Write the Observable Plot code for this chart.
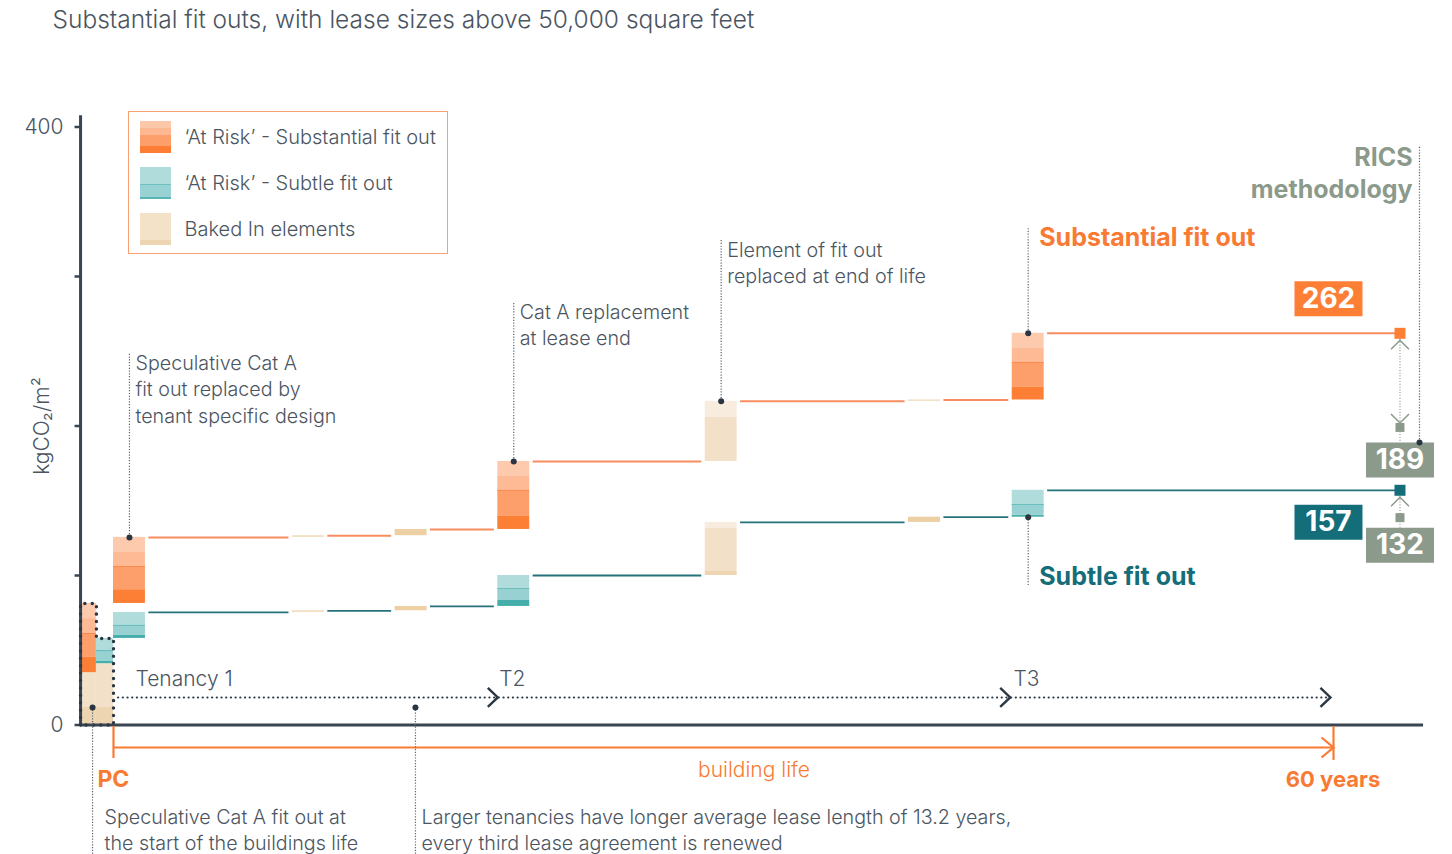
<!DOCTYPE html>
<html>
<head>
<meta charset="utf-8">
<script src="https://cdn.jsdelivr.net/npm/d3@7"></script>
<script src="https://cdn.jsdelivr.net/npm/@observablehq/plot@0.6"></script>
<style>
  html, body { margin: 0; padding: 0; background: #fff; }
  #wrap { position: relative; width: 1452px; height: 854px; overflow: hidden;
          font-family: Inter, Roboto, "Helvetica Neue", Arial, sans-serif; font-weight: 300; color: #4b5561; }
  #wrap svg { display: block; }
  #legend { position: absolute; left: 128px; top: 111px; width: 318px; height: 141px;
            border: 1.5px solid #f9a075; background: #fff; }
  #legend .sw { position: absolute; left: 10.5px; width: 31px; height: 32px; }
  #legend .lb { position: absolute; left: 55.5px; height: 26px; line-height: 26px; font-size: 20px; white-space: nowrap; }
</style>
</head>
<body>
<div id="wrap"></div>
<script>
// ---- data -------------------------------------------------------------
// Interventions over the building life (years after practical completion, PC)
const events = ["PC", "T1", "B1", "B2", "T2", "E", "B3", "T3"];
const eventStart = [-1.62, 0, 8.8, 13.85, 18.9, 29.1, 39.1, 44.2];

// Substantial fit out: stacked layers per intervention [event, from, to, layer] in kgCO2/m2
const substantialLayers = [
  ["PC", 0, 11.7, "bakedDark"], ["PC", 11.7, 35, "baked"],
  ["PC", 35, 45.2, "o4"], ["PC", 45.2, 61.2, "o3"], ["PC", 61.2, 71.2, "o2"], ["PC", 71.2, 81.3, "o1"],
  ["T1", 81.3, 90.5, "o4"], ["T1", 90.5, 106, "o3"], ["T1", 106, 115.4, "o2"], ["T1", 115.4, 125.5, "o1"],
  ["B1", 125.5, 126.6, "renewalLight"],
  ["B2", 126.6, 130.8, "renewal"],
  ["T2", 130.8, 139.5, "o4"], ["T2", 139.5, 157, "o3"], ["T2", 157, 166.2, "o2"], ["T2", 166.2, 176.3, "o1"],
  ["E", 176.3, 205.7, "baked"], ["E", 205.7, 216.5, "bakedLight"],
  ["B3", 216.5, 217.4, "renewalLight"],
  ["T3", 217.4, 225.8, "o4"], ["T3", 225.8, 242.5, "o3"], ["T3", 242.5, 251.8, "o2"], ["T3", 251.8, 262, "o1"]
];

// Subtle fit out: stacked layers per intervention [event, from, to, layer]
const subtleLayers = [
  ["PC", 0, 11.7, "bakedDark"], ["PC", 11.7, 41, "baked"],
  ["PC", 41, 42.5, "t3"], ["PC", 42.5, 49.8, "t2"], ["PC", 49.8, 57.9, "t1"],
  ["T1", 57.9, 59.9, "t3"], ["T1", 59.9, 66.6, "t2"], ["T1", 66.6, 75.3, "t1"],
  ["B1", 75.3, 76.4, "renewalLight"],
  ["B2", 76.4, 79.3, "renewal"],
  ["T2", 79.3, 83.3, "t3"], ["T2", 83.3, 91.3, "t2"], ["T2", 91.3, 100, "t1"],
  ["E", 100, 102.7, "bakedDark"], ["E", 102.7, 131.4, "baked"], ["E", 131.4, 135.5, "bakedLight"],
  ["B3", 135.5, 139, "renewal"],
  ["T3", 139, 140.3, "t3"], ["T3", 140.3, 147.5, "t2"], ["T3", 147.5, 157, "t1"]
];

const layerNames  = ["o1", "o2", "o3", "o4", "t1", "t2", "t3", "baked", "bakedLight", "bakedDark", "renewal", "renewalLight"];
const layerColors = ["#fdcaae", "#fdba95", "#fd9f6b", "#fd7e35", "#b1dcdc", "#98d1d1", "#45aeab",
                     "#f2e1c8", "#f7ecdd", "#edd5b1", "#ecd0a3", "#f1dcbd"];

// End-of-life totals and the RICS methodology equivalents
const totalValues = [262, 157];
const ricsValues = [189, 132];

const yTicks = [0, 100, 200, 300, 400];
const yTickLabels = ["0", "", "", "", "400"];

// Callouts along the substantial fit out line [event, top of leader, text]
const notes = [
  ["T1", 248.5, "Speculative Cat A\nfit out replaced by\ntenant specific design"],
  ["T2", 282.6, "Cat A replacement\nat lease end"],
  ["E", 324, "Element of fit out\nreplaced at end of life"]
];

// Notes below the axis [leader year, text year, text]
const footNotes = [
  [-1.03, -0.44, "Speculative Cat A fit out at\nthe start of the buildings life"],
  [14.85, 15.15, "Larger tenancies have longer average lease length of 13.2 years,\nevery third lease agreement is renewed"]
];

// Tenancies [label, start year, label year]
const tenancies = [["Tenancy 1", 0.25, 1.08], ["T2", 18.9, 18.97], ["T3", 44.1, 44.26]];
const tenancyEnd = 59.85;
const buildingLife = [0, 60];

// Legend entries [label, swatch gradient]
const legendLabels = ["\u2018At Risk\u2019 - Substantial fit out", "\u2018At Risk\u2019 - Subtle fit out", "Baked In elements"];
const legendSwatches = [
  "linear-gradient(#fdc8aa 0 7px, #fdb892 7px 14px, #fd9f6a 14px 25px, #fd7d35 25px 32px)",
  "linear-gradient(#b0dcdc 0 17px, #6fc0c0 17px 18px, #98d2d2 18px 30px, #58b6b6 30px 32px)",
  "linear-gradient(#f3e2c8 0 27px, #edd5b1 27px 32px)"
];

// ---- layout constants -------------------------------------------------
const axisStartYear = -1.62, axisEndYear = 64.43, axisTopValue = 407.5;
const barYears = 1.57, pcSplitYear = -0.84, lineGapYears = 0.17, endYear = 63.27;
const tenancyValue = 18.4, tenancyLabelValue = 30.4;
const lifeValue = -15.05, lifeLabelValue = -30.4, lifeEndLabelValue = -36.5;
const footDotValue = 11.7, footTextValue = -53.2, bottomValue = -90;

const ORANGE = "#f97b33", TEAL = "#156d79", GREY = "#8c9a8b", INK = "#4b5561", DARK = "#3a4552";
const FONT = "Inter, Roboto, 'Helvetica Neue', Arial, sans-serif";

// ---- derived tables ---------------------------------------------------
function eventSpan(series, event) {
  const s = eventStart[events.indexOf(event)];
  if (event === "PC") return series === "substantial" ? [s, pcSplitYear] : [pcSplitYear, 0];
  return [s, s + barYears];
}
const colorOf = new Map(layerNames.map((n, i) => [n, layerColors[i]]));

const rows = [];
for (const [series, layers] of [["substantial", substantialLayers], ["subtle", subtleLayers]]) {
  for (const [event, y1, y2, layer] of layers) {
    const [x1, x2] = eventSpan(series, event);
    rows.push({series, event, y1, y2, layer, x1, x2, fill: colorOf.get(layer)});
  }
}
const tops = d3.rollup(rows, v => d3.max(v, d => d.y2), d => d.series, d => d.event);
const bottoms = d3.rollup(rows, v => d3.min(v, d => d.y1), d => d.series, d => d.event);

const connectors = [];
for (const series of ["substantial", "subtle"]) {
  for (let i = 1; i < events.length; ++i) {
    const x1 = eventSpan(series, events[i])[1] + lineGapYears;
    const x2 = i + 1 < events.length ? eventSpan(series, events[i + 1])[0] - lineGapYears : endYear;
    connectors.push({series, x1, x2, y: tops.get(series).get(events[i])});
  }
}
const center = ev => d3.mean(eventSpan("substantial", ev));

const pcS = tops.get("substantial").get("PC"), pcT = tops.get("subtle").get("PC");
const pcOutline = [
  [axisStartYear, 0], [axisStartYear, pcS], [pcSplitYear, pcS], [pcSplitYear, pcT], [0, pcT], [0, 0], [axisStartYear, 0]
];

const noteRows = notes.map(([event, top, text]) => ({x: center(event), y1: tops.get("substantial").get(event), y2: top, text}));
const t3x = center("T3");
const subtleBottom = bottoms.get("subtle").get("T3");

// result markers: totals (orange / teal) and RICS equivalents (grey boxes hang from their value)
const totalFills = ["#fd7f35", "#146e7a"];
const totalBoxDy = [-34.5, 32];
const ricsBoxDy = 17.5;
const ricsTipDy = [-15, -10];
const ricsLineYear = 64.23, ricsTopValue = 386.4;

// ---- custom symbols (pixel geometry) -----------------------------------
const chevronUp = {draw(c) { c.moveTo(-9, 9); c.lineTo(0, 0); c.lineTo(9, 9); }};
const chevronDown = {draw(c) { c.moveTo(-9, -9); c.lineTo(0, 0); c.lineTo(9, -9); }};
const chevronRight = {draw(c) { c.moveTo(-10, -9.5); c.lineTo(0, 0); c.lineTo(-10, 9.5); }};
const chevronRightWide = {draw(c) { c.moveTo(-12, -10); c.lineTo(0, 0); c.lineTo(-12, 10); }};
const squareBig = {draw(c) { c.rect(-5.5, -5.5, 11, 11); }};
const squareSmall = {draw(c) { c.rect(-4.5, -4.5, 9, 9); }};
const valueBox = {draw(c) { c.rect(-34, -17.5, 68, 35); }};
const tickLeft = {draw(c) { c.moveTo(-6, 0); c.lineTo(0, 0); }};

const dotted = {stroke: "#5a6570", strokeWidth: 1.2, strokeDasharray: "1.2 1.6"};

const chart = Plot.plot({
  width: 1452,
  height: 854,
  marginTop: 0, marginRight: 0, marginBottom: 0, marginLeft: 0,
  x: {domain: [0, 60], range: [113, 1333], axis: null},
  y: {domain: [0, 400], range: [724.5, 126.5], axis: null},
  color: {type: "identity"},
  style: {fontFamily: FONT, background: "white", color: INK, overflow: "hidden"},
  marks: [
    // title
    Plot.text(["Substantial fit outs, with lease sizes above 50,000 square feet"],
      {x: -3.0, y: 466.5, textAnchor: "start", lineAnchor: "bottom", fontSize: 24.5, fontWeight: 300, fill: INK}),

    // stacked bars
    Plot.rect(rows, {x1: "x1", x2: "x2", y1: "y1", y2: "y2", fill: "fill"}),
    Plot.ruleY(rows.filter(d => d.layer === "o3"), {y: "y2", x1: "x1", x2: "x2", stroke: "#fb8a50", strokeWidth: 1}),
    Plot.ruleY(rows.filter(d => d.layer === "t2"), {y: "y2", x1: "x1", x2: "x2", stroke: "#6cbfbf", strokeWidth: 1.2}),

    // cumulative lines between interventions
    Plot.ruleY(connectors.filter(d => d.series === "substantial"), {y: "y", x1: "x1", x2: "x2", stroke: "#f78d5f", strokeWidth: 2}),
    Plot.ruleY(connectors.filter(d => d.series === "subtle"), {y: "y", x1: "x1", x2: "x2", stroke: "#25727d", strokeWidth: 1.8}),

    // axes
    Plot.ruleX([axisStartYear], {y1: 0, y2: axisTopValue, stroke: DARK, strokeWidth: 3}),
    Plot.ruleY([0], {x1: axisStartYear, x2: axisEndYear, stroke: DARK, strokeWidth: 3}),
    Plot.dot(yTicks, {x: axisStartYear, y: d => d, symbol: tickLeft, fill: "none", stroke: DARK, strokeWidth: 2.5}),
    Plot.text(yTicks, {x: axisStartYear, y: d => d, text: (d, i) => yTickLabels[i], textAnchor: "end", dx: -17, fontSize: 21, fontWeight: 300, fill: INK}),
    Plot.text(["kgCO\u2082/m\u00b2"], {x: axisStartYear, y: 200, dx: -38.5, rotate: -90, fontSize: 21, fontWeight: 300, fill: INK}),

    // PC outline
    Plot.line(pcOutline, {x: d => d[0], y: d => d[1], stroke: "#2c3744", strokeWidth: 3.4, strokeDasharray: "0.1 7.3", strokeLinecap: "round"}),

    // callouts on the substantial line
    Plot.ruleX(noteRows, {x: "x", y1: "y1", y2: "y2", ...dotted}),
    Plot.dot(noteRows, {x: "x", y: "y1", r: 3, fill: "#2a3542"}),
    Plot.text(noteRows, {x: "x", y: "y2", text: "text", dx: 6, dy: -3, textAnchor: "start", lineAnchor: "top", lineHeight: 1.36, fontSize: 19.7, fontWeight: 300, fill: INK}),

    // series labels at tenancy 3
    Plot.ruleX([t3x], {y1: totalValues[0], y2: 332, ...dotted}),
    Plot.dot([t3x], {x: d => d, y: totalValues[0], r: 3, fill: "#2a3542"}),
    Plot.text(["Substantial fit out"], {x: t3x, y: 332, dx: 11, textAnchor: "start", lineAnchor: "top", fontSize: 25, fontWeight: 700, fill: ORANGE}),
    Plot.ruleX([t3x], {y1: subtleBottom, y2: 93.3, ...dotted}),
    Plot.dot([t3x], {x: d => d, y: subtleBottom, r: 3, fill: "#2a3542"}),
    Plot.text(["Subtle fit out"], {x: t3x, y: 98.7, dx: 11, textAnchor: "start", fontSize: 25, fontWeight: 700, fill: TEAL}),

    // tenancies
    Plot.ruleY([tenancyValue], {x1: tenancies[0][1], x2: tenancyEnd, stroke: "#2c3744", strokeWidth: 2.2, strokeDasharray: "0.1 4.6", strokeLinecap: "round"}),
    Plot.dot([...tenancies.slice(1).map(d => d[1]), tenancyEnd], {x: d => d, y: tenancyValue, symbol: chevronRight, fill: "none", stroke: "#2c3744", strokeWidth: 2.4}),
    Plot.text(tenancies, {x: d => d[2], y: tenancyLabelValue, text: d => d[0], textAnchor: "start", fontSize: 21, fontWeight: 300, fill: INK}),

    // building life
    Plot.ruleY([lifeValue], {x1: buildingLife[0], x2: buildingLife[1], stroke: ORANGE, strokeWidth: 2.2}),
    Plot.ruleX([buildingLife[0]], {y1: -1, y2: -22.4, stroke: ORANGE, strokeWidth: 2.2}),
    Plot.ruleX([buildingLife[1]], {y1: -1, y2: -23.7, stroke: ORANGE, strokeWidth: 2.2}),
    Plot.dot([buildingLife[1]], {x: d => d, y: lifeValue, symbol: chevronRightWide, fill: "none", stroke: ORANGE, strokeWidth: 2.2}),
    Plot.text(["PC"], {x: -0.79, y: lifeEndLabelValue, textAnchor: "start", fontSize: 23, fontWeight: 700, fill: ORANGE}),
    Plot.text(["building life"], {x: 31.5, y: lifeLabelValue, fontSize: 21, fontWeight: 300, fill: ORANGE}),
    Plot.text(["60 years"], {x: 62.3, y: lifeEndLabelValue, textAnchor: "end", fontSize: 22, fontWeight: 700, fill: ORANGE}),

    // foot notes
    Plot.ruleX(footNotes, {x: d => d[0], y1: footDotValue, y2: bottomValue, ...dotted}),
    Plot.dot(footNotes, {x: d => d[0], y: footDotValue, r: 3, fill: "#2a3542"}),
    Plot.text(footNotes, {x: d => d[1], y: footTextValue, text: d => d[2], textAnchor: "start", lineAnchor: "top", lineHeight: 1.36, fontSize: 19.7, fontWeight: 300, fill: INK}),

    // RICS comparison: dotted arrows from each total down to its RICS value
    Plot.link([0, 1], {x1: endYear, x2: endYear, y1: i => totalValues[i], y2: i => ricsValues[i], stroke: "#a9b3a8", strokeWidth: 1.3, strokeDasharray: "1.2 1.6"}),
    Plot.dot([0, 1], {x: endYear, y: i => totalValues[i], dy: 7, symbol: chevronUp, fill: "none", stroke: GREY, strokeWidth: 1.5}),
    Plot.dot([0], {x: endYear, y: i => ricsValues[i], dy: ricsTipDy[0] - 4.5, symbol: chevronDown, fill: "none", stroke: GREY, strokeWidth: 1.5}),
    ...[0, 1].map(i => Plot.dot([ricsValues[i]], {x: endYear, y: d => d, dy: ricsTipDy[i], symbol: squareSmall, fill: GREY, stroke: "none"})),
    Plot.dot([0, 1], {x: endYear, y: i => totalValues[i], symbol: squareBig, fill: i => totalFills[i], stroke: "none"}),

    Plot.ruleX([ricsLineYear], {y1: ricsTopValue, y2: ricsValues[0], ...dotted}),
    Plot.text(["RICS\nmethodology"], {x: 63.89, y: ricsTopValue + 3, textAnchor: "end", lineAnchor: "top", lineHeight: 1.28, fontSize: 25, fontWeight: 700, fill: GREY}),

    // value boxes
    ...[0, 1].map(i => Plot.dot([totalValues[i]], {x: endYear, y: d => d, dx: -71.5, dy: totalBoxDy[i], symbol: valueBox, fill: totalFills[i], stroke: "none"})),
    ...[0, 1].map(i => Plot.text([totalValues[i]], {x: endYear, y: d => d, dx: -71.5, dy: totalBoxDy[i], text: d => String(d), fontSize: 28, fontWeight: 700, fill: "white"})),
    ...[0, 1].map(i => Plot.dot([ricsValues[i]], {x: endYear, y: d => d, dy: ricsBoxDy, symbol: valueBox, fill: GREY, stroke: "none"})),
    ...[0, 1].map(i => Plot.text([ricsValues[i]], {x: endYear, y: d => d, dy: ricsBoxDy, text: d => String(d), fontSize: 28, fontWeight: 700, fill: "white"})),
    Plot.dot([ricsLineYear], {x: d => d, y: ricsValues[0], r: 3, fill: "#2a3542"})
  ]
});

const wrap = document.getElementById("wrap");
wrap.appendChild(chart);

// legend
const legend = document.createElement("div");
legend.id = "legend";
legendLabels.forEach((label, i) => {
  const sw = document.createElement("div");
  sw.className = "sw";
  sw.style.top = (8.5 + i * 46) + "px";
  sw.style.background = legendSwatches[i];
  legend.appendChild(sw);
  const lb = document.createElement("div");
  lb.className = "lb";
  lb.style.top = (11.5 + i * 46) + "px";
  lb.textContent = label;
  legend.appendChild(lb);
});
wrap.appendChild(legend);
</script>
</body>
</html>
